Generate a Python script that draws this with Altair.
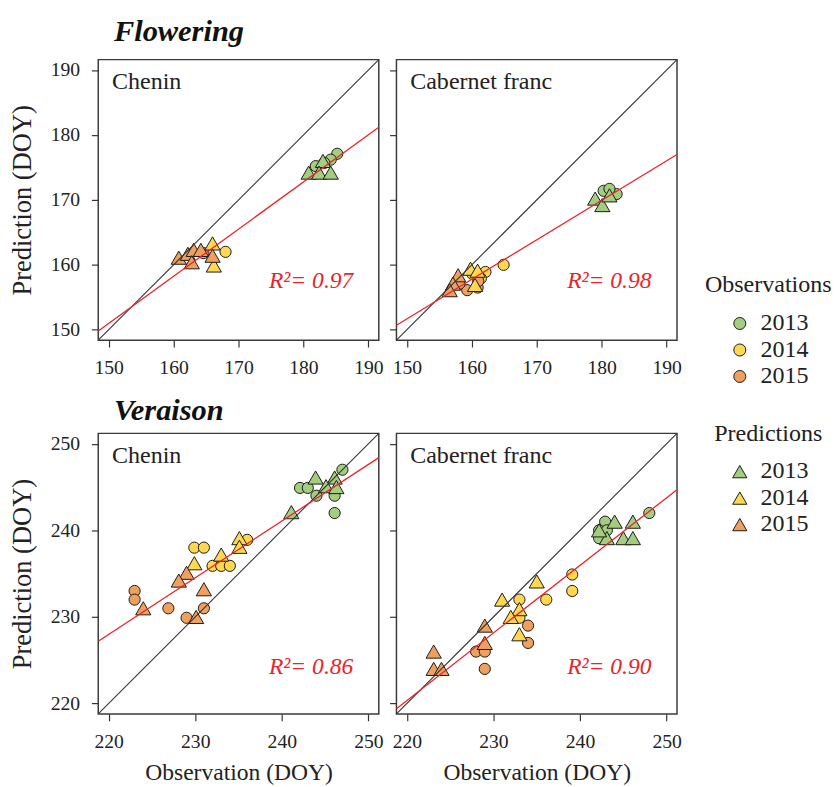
import altair as alt
import pandas as pd

SERIF = "Liberation Serif"
YEARS = ["2013", "2014", "2015"]
PT_COLORS = ["#A3CD7F", "#FFD84F", "#F0A05E"]
LEG_COLORS = ["#A9D18E", "#FFD966", "#F4B183"]

# ---------------- Flowering : Chenin ----------------
fl_ch_circ_x = [185.2, 184.2, 183.2, 181.9, 168.0, 164.6]
fl_ch_circ_y = [177.1, 176.2, 175.7, 175.2, 162.0, 161.8]
fl_ch_circ_yr = ["2013", "2013", "2013", "2013", "2014", "2015"]
fl_ch_tri_x = [183.0, 180.8, 182.4, 184.2, 166.0, 166.2, 160.8, 162.2, 163.1, 164.2, 162.8, 166.0]
fl_ch_tri_y = [176.0, 174.2, 174.2, 174.2, 163.3, 159.9, 161.1, 161.7, 162.3, 162.3, 160.4, 161.4]
fl_ch_tri_yr = ["2013", "2013", "2013", "2013", "2014", "2014", "2015", "2015", "2015", "2015", "2015", "2015"]
fl_ch_fit_x = [148.4, 191.6]
fl_ch_fit_y = [149.8, 181.2]

# ---------------- Flowering : Cabernet franc ----------------
fl_cf_circ_x = [180.3, 182.3, 181.2, 164.9, 162.1, 161.4, 160.1, 160.9, 159.3, 158.1, 161.0]
fl_cf_circ_y = [171.4, 170.9, 171.7, 160.0, 158.9, 157.9, 158.6, 156.5, 156.1, 157.1, 157.5]
fl_cf_circ_yr = ["2013", "2013", "2013", "2014", "2014", "2014", "2014", "2015", "2015", "2015", "2015"]
fl_cf_tri_x = [179.0, 180.1, 181.2, 159.8, 160.9, 160.5, 157.9, 157.1, 156.6]
fl_cf_tri_y = [170.2, 169.2, 170.7, 159.4, 159.1, 156.9, 158.4, 157.1, 156.1]
fl_cf_tri_yr = ["2013", "2013", "2013", "2014", "2014", "2014", "2015", "2015", "2015"]
fl_cf_fit_x = [148.4, 191.6]
fl_cf_fit_y = [150.7, 177.0]

# ---------------- Veraison : Chenin ----------------
ve_ch_circ_x = [247.0, 242.1, 243.0, 244.0, 246.1, 246.1,
                236.0, 229.9, 231.0, 232.0, 233.0, 234.0,
                223.0, 223.0, 226.9, 231.0, 229.0]
ve_ch_circ_y = [247.0, 244.9, 244.9, 244.0, 244.0, 242.0,
                238.9, 238.0, 238.0, 235.9, 235.9, 235.9,
                233.0, 232.0, 231.0, 231.0, 229.9]
ve_ch_circ_yr = ["2013", "2013", "2013", "2013", "2013", "2013",
                 "2014", "2014", "2014", "2014", "2014", "2014",
                 "2015", "2015", "2015", "2015", "2015"]
ve_ch_tri_x = [243.9, 246.1, 245.1, 246.3, 241.1,
               235.1, 235.1, 233.0, 229.9,
               229.0, 228.1, 231.0, 224.0, 230.1]
ve_ch_tri_y = [246.1, 246.1, 245.1, 245.0, 242.1,
               239.1, 238.1, 237.2, 236.2,
               235.1, 234.2, 233.2, 231.0, 230.0]
ve_ch_tri_yr = ["2013", "2013", "2013", "2013", "2013",
                "2014", "2014", "2014", "2014",
                "2015", "2015", "2015", "2015", "2015"]
ve_ch_fit_x = [218.8, 251.2]
ve_ch_fit_y = [227.2, 248.4]

# ---------------- Veraison : Cabernet franc ----------------
ve_cf_circ_x = [248.0, 242.9, 242.2, 243.1, 242.2,
                239.1, 239.1, 236.1, 233.0, 233.0,
                234.0, 234.0, 228.0, 229.0, 229.0]
ve_cf_circ_y = [242.0, 241.0, 240.0, 240.0, 239.1,
                234.9, 233.0, 232.0, 232.0, 229.9,
                229.0, 227.0, 226.0, 226.0, 224.0]
ve_cf_circ_yr = ["2013", "2013", "2013", "2013", "2013",
                 "2014", "2014", "2014", "2014", "2014",
                 "2015", "2015", "2015", "2015", "2015"]
ve_cf_tri_x = [246.1, 244.0, 243.1, 245.0, 246.1, 242.2,
               235.0, 231.0, 233.0, 232.0, 233.0,
               229.0, 229.0, 223.1, 223.1, 224.0]
ve_cf_tri_y = [241.0, 241.0, 239.1, 239.1, 239.1, 240.0,
               234.1, 232.0, 230.9, 230.0, 228.0,
               229.0, 227.0, 226.0, 224.0, 224.0]
ve_cf_tri_yr = ["2013", "2013", "2013", "2013", "2013", "2013",
                "2014", "2014", "2014", "2014", "2014",
                "2015", "2015", "2015", "2015", "2015"]
ve_cf_fit_x = [218.8, 251.2]
ve_cf_fit_y = [219.4, 244.7]

FL_DOMAIN = [148.4, 191.6]
FL_TICKS = [150, 160, 170, 180, 190]
VE_DOMAIN = [218.8, 251.2]
VE_TICKS = [220, 230, 240, 250]

W = 286
INK = "#222222"


def enc_xy(dom, ticks, left, bottom):
    xs = alt.Scale(domain=dom, nice=False, zero=False)
    ys = alt.Scale(domain=dom, nice=False, zero=False)
    xk = dict(values=ticks, tickSize=7, tickWidth=1.2, tickColor="#333333", domain=False, grid=False,
              labelFont=SERIF, labelFontSize=20, labelColor=INK, labelPadding=11, labelFlush=False)
    if bottom:
        xk.update(title="Observation (DOY)", titleFont=SERIF, titleFontSize=24, titleFontWeight="normal",
                  titleColor=INK, titlePadding=10)
    else:
        xk.update(title="")
    yk = dict(values=ticks, tickSize=7, tickWidth=1.2, tickColor="#333333", domain=False, grid=False,
              labelFont=SERIF, labelFontSize=20, labelColor=INK, labelPadding=12, labelFlush=False)
    if left:
        yk.update(title="Prediction (DOY)", titleFont=SERIF, titleFontSize=27, titleFontWeight="normal",
                  titleColor=INK, titlePadding=14)
    else:
        yk.update(title="", labels=False)
    return xs, ys, alt.Axis(**xk), alt.Axis(**yk)


def make_panel(name, r2, cx, cy, cyr, tx, ty, tyr, fx, fy, dom, ticks, left, bottom, r2_up,
               heading=None, head_up=0):
    xs, ys, ax, ay = enc_xy(dom, ticks, left, bottom)
    X = lambda f: alt.X(f, type="quantitative", scale=xs, axis=ax)
    Y = lambda f: alt.Y(f, type="quantitative", scale=ys, axis=ay)
    fill = alt.Fill("year:N", scale=alt.Scale(domain=YEARS, range=PT_COLORS), legend=None)

    circ = alt.Chart(pd.DataFrame({"x": cx, "y": cy, "year": cyr})).mark_point(
        shape="circle", filled=True, size=130, stroke="#1a1a1a", strokeWidth=1, opacity=1, fillOpacity=1
    ).encode(x=X("x"), y=Y("y"), fill=fill)
    tri = alt.Chart(pd.DataFrame({"x": tx, "y": ty, "year": tyr})).mark_point(
        shape="triangle-up", filled=True, size=240, stroke="#1a1a1a", strokeWidth=1, opacity=1, fillOpacity=1
    ).encode(x=X("x"), y=Y("y"), fill=fill)
    diag = alt.Chart(pd.DataFrame({"x": [dom[0]], "y": [dom[0]], "x2": [dom[1]], "y2": [dom[1]]})).mark_rule(
        color="#333333", strokeWidth=1.1
    ).encode(x=X("x"), y=Y("y"), x2="x2:Q", y2="y2:Q")
    fit = alt.Chart(pd.DataFrame({"x": [fx[0]], "y": [fy[0]], "x2": [fx[1]], "y2": [fy[1]]})).mark_rule(
        color="#E8242C", strokeWidth=1.3
    ).encode(x=X("x"), y=Y("y"), x2="x2:Q", y2="y2:Q")
    lab = alt.Chart(pd.DataFrame({"t": [name]})).mark_text(
        align="left", baseline="alphabetic", font=SERIF, fontSize=24.5, color=INK
    ).encode(x=alt.value(14), y=alt.value(30), text="t:N")
    r2t = alt.Chart(pd.DataFrame({"t": [r2]})).mark_text(
        align="right", baseline="alphabetic", font=SERIF, fontSize=24, fontStyle="italic", color="#E8242C"
    ).encode(x=alt.value(W - 26), y=alt.value(W - r2_up), text="t:N")
    layers = [circ, tri, diag, fit, lab, r2t]
    if heading:
        head = alt.Chart(pd.DataFrame({"t": [heading]})).mark_text(
            align="left", baseline="alphabetic", font=SERIF, fontSize=31, fontStyle="italic",
            fontWeight="bold", color="#111111"
        ).encode(x=alt.value(16), y=alt.value(-head_up), text="t:N")
        layers.append(head)
    return alt.layer(*layers).properties(width=W, height=W)


tl = make_panel("Chenin", "R²= 0.97", fl_ch_circ_x, fl_ch_circ_y, fl_ch_circ_yr, fl_ch_tri_x, fl_ch_tri_y,
                fl_ch_tri_yr, fl_ch_fit_x, fl_ch_fit_y, FL_DOMAIN, FL_TICKS, True, False, 53, "Flowering", 19)
tr = make_panel("Cabernet franc", "R²= 0.98", fl_cf_circ_x, fl_cf_circ_y, fl_cf_circ_yr, fl_cf_tri_x, fl_cf_tri_y,
                fl_cf_tri_yr, fl_cf_fit_x, fl_cf_fit_y, FL_DOMAIN, FL_TICKS, False, False, 53)
bl = make_panel("Chenin", "R²= 0.86", ve_ch_circ_x, ve_ch_circ_y, ve_ch_circ_yr, ve_ch_tri_x, ve_ch_tri_y,
                ve_ch_tri_yr, ve_ch_fit_x, ve_ch_fit_y, VE_DOMAIN, VE_TICKS, True, True, 41, "Veraison", 14)
br = make_panel("Cabernet franc", "R²= 0.90", ve_cf_circ_x, ve_cf_circ_y, ve_cf_circ_yr, ve_cf_tri_x, ve_cf_tri_y,
                ve_cf_tri_yr, ve_cf_fit_x, ve_cf_fit_y, VE_DOMAIN, VE_TICKS, False, True, 41)

# ---------------- Legend (manual) ----------------
LEG_W = 131
OBS_TITLE_Y, OBS_FIRST_Y = 230, 269
PRED_TITLE_Y, PRED_FIRST_Y = 382, 420
STEP = 27
MARK_X, LABEL_X, TITLE_X = 46, 67, 75

lx = alt.Scale(domain=[0, LEG_W], nice=False, zero=False)
ly = alt.Scale(domain=[0, W], nice=False, zero=False, reverse=True)
leg_fill = alt.Fill("year:N", scale=alt.Scale(domain=YEARS, range=LEG_COLORS), legend=None)

obs_df = pd.DataFrame({"year": YEARS, "px": [MARK_X] * 3, "lx": [LABEL_X] * 3,
                       "py": [OBS_FIRST_Y + i * STEP for i in range(3)]})
pred_df = pd.DataFrame({"year": YEARS, "px": [MARK_X] * 3, "lx": [LABEL_X] * 3,
                        "py": [PRED_FIRST_Y + i * STEP for i in range(3)]})
titles_df = pd.DataFrame({"t": ["Observations", "Predictions"], "px": [TITLE_X, TITLE_X],
                          "py": [OBS_TITLE_Y, PRED_TITLE_Y]})

LX = lambda f: alt.X(f, type="quantitative", scale=lx, axis=None)
LY = lambda f: alt.Y(f, type="quantitative", scale=ly, axis=None)

leg_circ = alt.Chart(obs_df).mark_point(shape="circle", filled=True, size=150, stroke="#1a1a1a",
                                        strokeWidth=1, opacity=1).encode(x=LX("px"), y=LY("py"), fill=leg_fill)
leg_tri = alt.Chart(pred_df).mark_point(shape="triangle-up", filled=True, size=210, stroke="#1a1a1a",
                                        strokeWidth=1, opacity=1).encode(x=LX("px"), y=LY("py"), fill=leg_fill)
leg_obs_txt = alt.Chart(obs_df).mark_text(align="left", baseline="middle", font=SERIF, fontSize=24.5,
                                          color=INK).encode(x=LX("lx"), y=LY("py"), text="year:N")
leg_pred_txt = alt.Chart(pred_df).mark_text(align="left", baseline="middle", font=SERIF, fontSize=24.5,
                                            color=INK).encode(x=LX("lx"), y=LY("py"), text="year:N")
leg_titles = alt.Chart(titles_df).mark_text(align="center", baseline="middle", font=SERIF, fontSize=24.5,
                                            color=INK).encode(x=LX("px"), y=LY("py"), text="t:N")
legend = alt.layer(leg_circ, leg_tri, leg_obs_txt, leg_pred_txt, leg_titles).properties(
    width=LEG_W, height=W, view=alt.ViewBackground(strokeOpacity=0))

chart = alt.concat(tl, tr, legend, bl, br, columns=3, spacing=alt.RowColnumber(row=95, column=18),
                   bounds="flush").properties(
    padding={"left": 0, "top": 0, "right": 0, "bottom": 0}, background="white"
).configure_view(stroke="#3a3a3a", strokeWidth=1.5)

chart.save("out.html", embed_options={"renderer": "svg", "actions": False})
